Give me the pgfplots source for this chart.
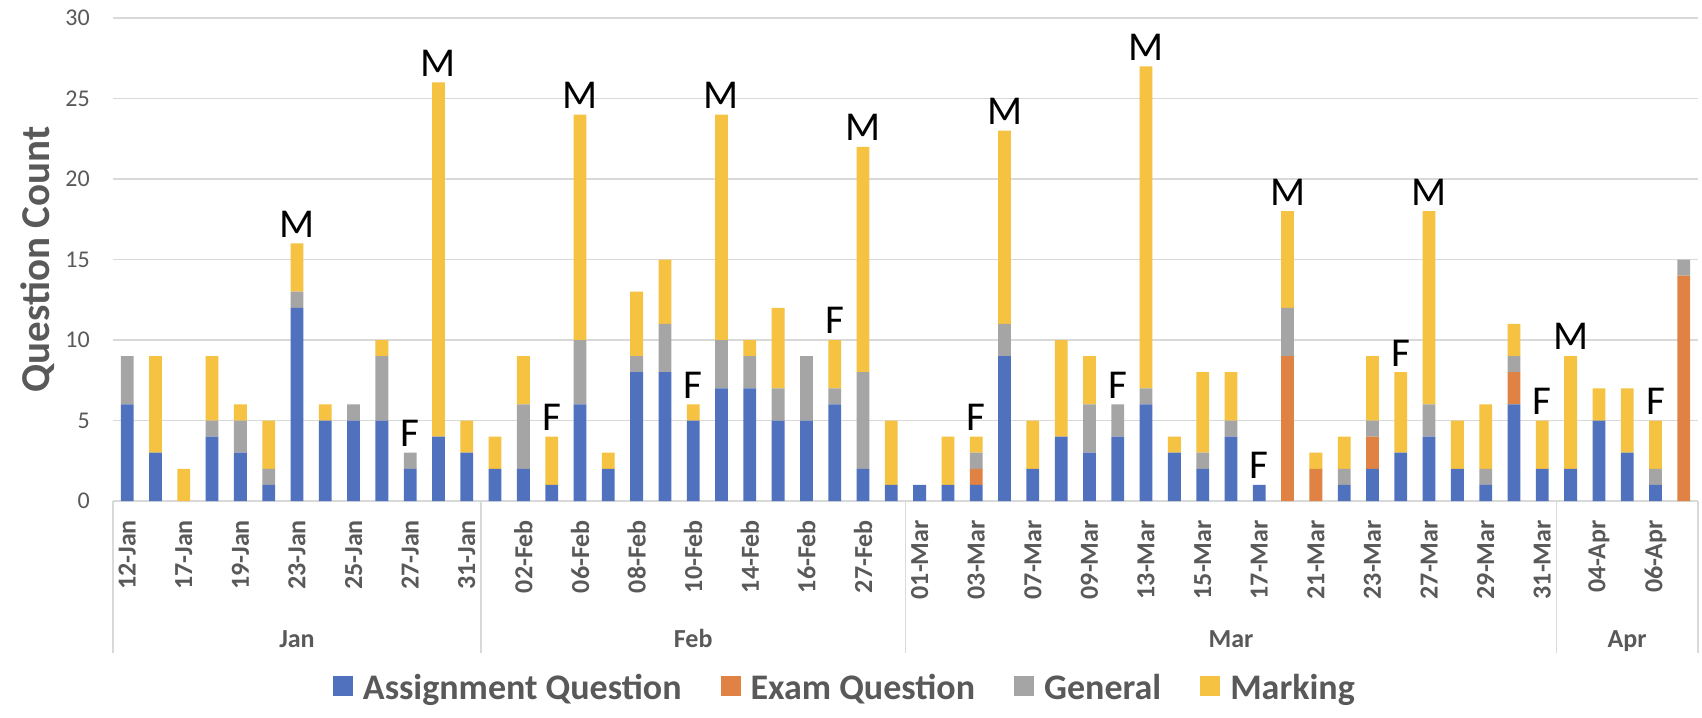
\documentclass[border=0pt]{standalone}
\usepackage{fontspec}
\setmainfont{Carlito}
\usepackage{pgfplots}
\usepackage{pgfplotstable}
\pgfplotsset{compat=1.18}
\definecolor{cA}{HTML}{4F71BE}
\definecolor{cE}{HTML}{DF8244}
\definecolor{cG}{HTML}{A5A5A5}
\definecolor{cM}{HTML}{F5C242}
\definecolor{tgray}{HTML}{595959}
\definecolor{lgray}{HTML}{D9D9D9}

\pgfplotstableread{
x A E G M
0 6 0 3 0
1 3 0 0 6
2 0 0 0 2
3 4 0 1 4
4 3 0 2 1
5 1 0 1 3
6 12 0 1 3
7 5 0 0 1
8 5 0 1 0
9 5 0 4 1
10 2 0 1 0
11 4 0 0 22
12 3 0 0 2
13 2 0 0 2
14 2 0 4 3
15 1 0 0 3
16 6 0 4 14
17 2 0 0 1
18 8 0 1 4
19 8 0 3 4
20 5 0 0 1
21 7 0 3 14
22 7 0 2 1
23 5 0 2 5
24 5 0 4 0
25 6 0 1 3
26 2 0 6 14
27 1 0 0 4
28 1 0 0 0
29 1 0 0 3
30 1 1 1 1
31 9 0 2 12
32 2 0 0 3
33 4 0 0 6
34 3 0 3 3
35 4 0 2 0
36 6 0 1 20
37 3 0 0 1
38 2 0 1 5
39 4 0 1 3
40 1 0 0 0
41 0 9 3 6
42 0 2 0 1
43 1 0 1 2
44 2 2 1 4
45 3 0 0 5
46 4 0 2 12
47 2 0 0 3
48 1 0 1 4
49 6 2 1 2
50 2 0 0 3
51 2 0 0 7
52 5 0 0 2
53 3 0 0 4
54 1 0 1 3
55 0 14 1 0
}\datatab

\pgfplotstableread{
x y lab
6 16 M
10 3 F
11 26 M
15 4 F
16 24 M
20 6 F
21 24 M
25 10 F
26 22 M
30 4 F
31 23 M
35 6 F
36 27 M
40 1 F
41 18 M
45 8 F
46 18 M
50 5 F
51 9 M
54 5 F
}\labtab

\begin{document}
\begin{tikzpicture}
\begin{axis}[
  scale only axis, width=1585bp, height=483bp,
  xmin=-0.5, xmax=55.5, ymin=0, ymax=30,
  enlargelimits=false,
  ybar stacked, bar width=12.8bp,
  axis line style={draw=none},
  major tick length=0pt,
  tick align=outside,
  tick pos=left,
  ytick={0,5,...,30},
  ymajorgrids, grid style={lgray, line width=1.2bp},
  xtick={0,2,...,54},
  xticklabels={12-Jan,17-Jan,19-Jan,23-Jan,25-Jan,27-Jan,31-Jan,02-Feb,06-Feb,08-Feb,10-Feb,14-Feb,16-Feb,27-Feb,01-Mar,03-Mar,07-Mar,09-Mar,13-Mar,15-Mar,17-Mar,21-Mar,23-Mar,27-Mar,29-Mar,31-Mar,04-Apr,06-Apr},
  xticklabel style={rotate=90, anchor=east, inner xsep=19bp, inner ysep=0pt, font=\bfseries\fontsize{26bp}{31bp}\selectfont, text=tgray},
  extra x ticks={-0.5,12.5,27.5,50.5,55.5},
  extra x tick labels={},
  extra x tick style={major tick length=152bp, tick style={lgray, line width=1.2bp}, grid=none},
  /pgf/number format/assume math mode=true,
  yticklabel style={font=\fontsize{24bp}{29bp}\selectfont, text=tgray, inner sep=0pt, xshift=-23bp},
  ylabel={Question Count},
  every axis y label/.style={at={(rel axis cs:0,0.5)}, xshift=-75bp, rotate=90, anchor=center, font=\bfseries\fontsize{41bp}{48bp}\selectfont, text=tgray},
  legend columns=4,
  legend image code/.code={\draw[#1,draw=none] (0bp,-8bp) rectangle (20bp,12bp);},
  legend style={at={(0.4627,-0.3872)}, anchor=center, draw=none, fill=none,
    font=\bfseries\fontsize{36bp}{43bp}\selectfont, text=tgray,
    inner sep=0pt,
    nodes={inner xsep=5bp, inner ysep=0pt},
    /tikz/every odd column/.append style={column sep=5bp},
    /tikz/every even column/.append style={column sep=34bp}},
]
\addplot[fill=cA, draw=none] table[x=x,y=A]{\datatab};
\addlegendentry{Assignment Question}
\addplot[fill=cE, draw=none] table[x=x,y=E]{\datatab};
\addlegendentry{Exam Question}
\addplot[fill=cG, draw=none] table[x=x,y=G]{\datatab};
\addlegendentry{General}
\addplot[fill=cM, draw=none] table[x=x,y=M]{\datatab};
\addlegendentry{Marking}
\end{axis}
\begin{axis}[
  scale only axis, width=1585bp, height=483bp,
  xmin=-0.5, xmax=55.5, ymin=0, ymax=30,
  enlargelimits=false, clip=false,
  axis line style={draw=none},
  major tick length=0pt,
  tick pos=left,
  ytick=\empty,
  xtick={6,20,39,53},
  xticklabels={Jan,Feb,Mar,Apr},
  xticklabel style={font=\bfseries\fontsize{26bp}{31bp}\selectfont, text=tgray, anchor=base, inner sep=0pt, yshift=-146bp},
]
\addplot[only marks, mark=none, nodes near coords, point meta=explicit symbolic,
  every node near coord/.append style={anchor=south, inner sep=0pt, yshift=6bp, font=\fontsize{41bp}{48bp}\selectfont, text=black}]
  table[x=x,y=y,meta=lab]{\labtab};
\end{axis}
\pgfresetboundingbox
\path[use as bounding box] (-113bp,-217bp) rectangle (1589bp,501bp);
\end{tikzpicture}
\end{document}
